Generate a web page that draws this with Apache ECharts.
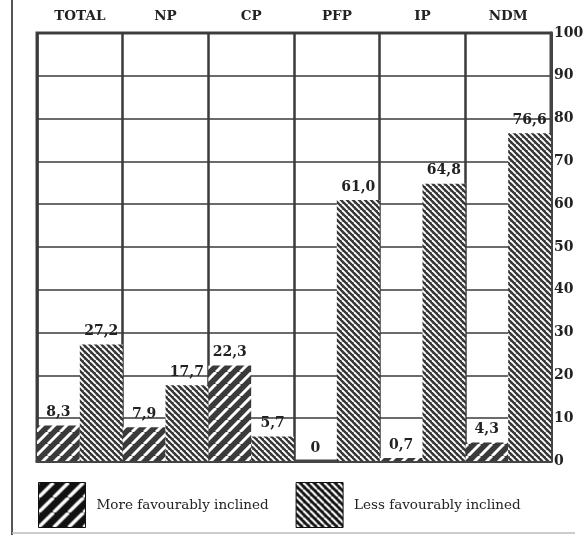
<!DOCTYPE html>
<html>
<head>
<meta charset="utf-8">
<script src="https://cdn.jsdelivr.net/npm/echarts@6/dist/echarts.min.js"></script>
<style>html,body{margin:0;padding:0;background:#fff}#c{width:584px;height:535px}</style>
</head>
<body>
<div id="c"></div>
<script>
var categories = ['TOTAL', 'NP', 'CP', 'PFP', 'IP', 'NDM'];
var moreFavourably = [8.3, 7.9, 22.3, 0, 0.7, 4.3];
var lessFavourably = [27.2, 17.7, 5.7, 61.0, 64.8, 76.6];
var seriesNames = ['More favourably inclined', 'Less favourably inclined'];
var yTicks = { min: 0, max: 100, interval: 10 };

function makePattern(bg, size, lw, dir) {
  var c = document.createElement('canvas');
  c.width = size; c.height = size;
  var g = c.getContext('2d');
  g.fillStyle = bg; g.fillRect(0, 0, size, size);
  g.strokeStyle = '#fff'; g.lineWidth = lw;
  for (var k = -size; k <= size; k += size) {
    g.beginPath();
    if (dir === '/') { g.moveTo(k, size); g.lineTo(k + size, 0); }
    else { g.moveTo(k, 0); g.lineTo(k + size, size); }
    g.stroke();
  }
  return { image: c, repeat: 'repeat' };
}
var pMore = makePattern('#3a3a3a', 12, 3.0, '/');
var pLess = makePattern('#363636', 6, 1.9, '\\');
var pMoreLeg = makePattern('#111', 15, 3.4, '/');
var pLessLeg = makePattern('#111', 7, 2.2, '\\');

var serif = '"DejaVu Serif", "Liberation Serif", serif';
function fmt(p) { var v = p.value; return v === 0 ? '0' : v.toFixed(1).replace('.', ','); }

var chart = echarts.init(document.getElementById('c'));
chart.setOption({
  animation: false,
  backgroundColor: '#fff',
  grid: { left: 37, right: 33, top: 33, bottom: 74, show: true, borderColor: '#444', borderWidth: 3, outerBoundsMode: 'none', containLabel: false },
  xAxis: {
    type: 'category', data: categories, position: 'top',
    axisLine: { show: true, lineStyle: { color: '#444', width: 3 } },
    axisTick: { show: false },
    axisLabel: { fontFamily: serif, fontWeight: 'bold', fontSize: 13.5, color: '#222', margin: 10 },
    splitLine: { show: true, lineStyle: { color: '#3a3a3a', width: 2.5 } }
  },
  yAxis: {
    type: 'value', position: 'right', min: yTicks.min, max: yTicks.max, interval: yTicks.interval,
    axisLine: { show: true, lineStyle: { color: '#444', width: 3 } },
    axisTick: { show: false },
    axisLabel: { fontFamily: serif, fontWeight: 'bold', fontSize: 14, color: '#222', margin: 3 },
    splitLine: { show: true, lineStyle: { color: '#3a3a3a', width: 1.5 } }
  },
  legend: {
    left: 38, top: 482, itemWidth: 47, itemHeight: 45, itemGap: 27, padding: 0,
    icon: 'rect',
    textStyle: { fontFamily: serif, fontSize: 13.5, color: '#222', padding: [0, 0, 0, 6] },
    data: [
      { name: seriesNames[0], itemStyle: { color: pMoreLeg, borderColor: '#111', borderWidth: 1 } },
      { name: seriesNames[1], itemStyle: { color: pLessLeg, borderColor: '#111', borderWidth: 1 } }
    ]
  },
  series: [
    {
      name: seriesNames[0], type: 'bar', data: moreFavourably,
      barGap: '0%', barCategoryGap: '0%',
      itemStyle: { color: pMore },
      label: { show: true, position: 'top', formatter: fmt, fontFamily: serif, fontWeight: 'bold', fontSize: 14, color: '#222', distance: 6 }
    },
    {
      name: seriesNames[1], type: 'bar', data: lessFavourably,
      barGap: '0%', barCategoryGap: '0%',
      itemStyle: { color: pLess },
      label: { show: true, position: 'top', formatter: fmt, fontFamily: serif, fontWeight: 'bold', fontSize: 14, color: '#222', distance: 6 }
    }
  ],
  graphic: [
    { type: 'line', shape: { x1: 12, y1: 0, x2: 12, y2: 535 }, style: { stroke: '#555', lineWidth: 2 } },
    { type: 'line', shape: { x1: 12, y1: 533, x2: 575, y2: 533 }, style: { stroke: '#bbb', lineWidth: 1.5 } }
  ]
});
</script>
</body>
</html>
